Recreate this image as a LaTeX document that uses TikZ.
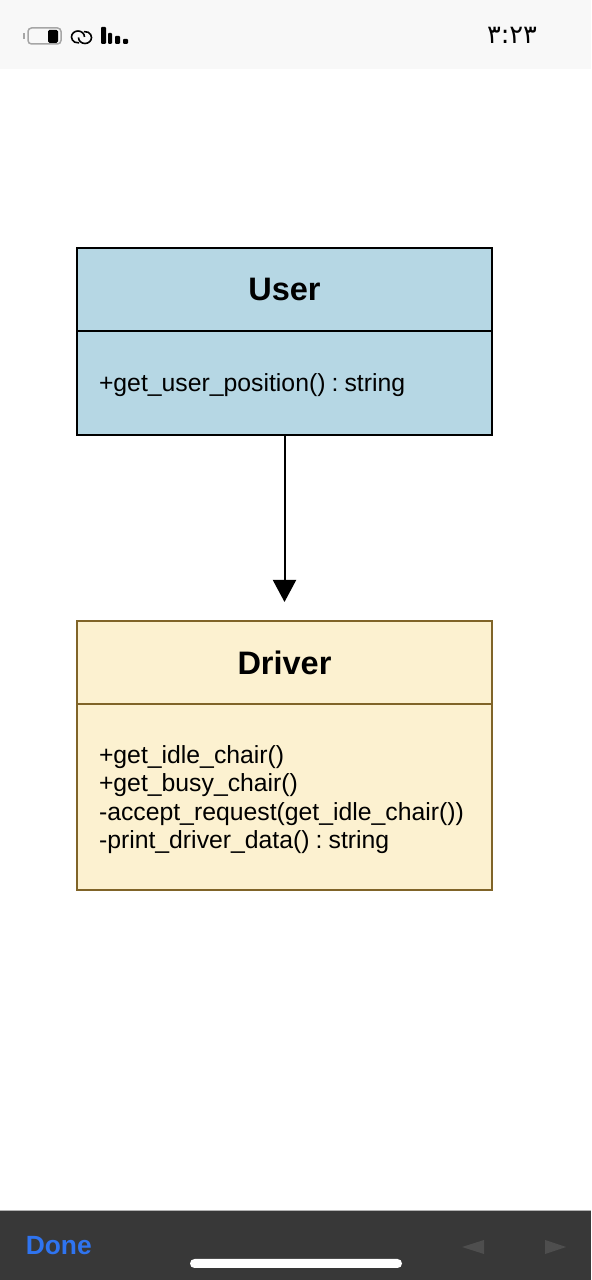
\documentclass[tikz,border=0pt]{standalone}
\usepackage{fontspec}
\setmainfont{Liberation Sans}
\newfontfamily\arabicfont[Script=Arabic]{DejaVu Sans}
\usepackage{xcolor}
\usetikzlibrary{arrows.meta,positioning,calc}
\definecolor{ublue}{RGB}{182,215,228}
\definecolor{dyellow}{RGB}{252,241,208}
\definecolor{dline}{RGB}{128,100,40}
\definecolor{donebar}{RGB}{56,56,56}
\definecolor{doneblue}{RGB}{47,116,240}
\definecolor{navgray}{RGB}{78,78,78}
\definecolor{statbar}{RGB}{248,248,248}

\begin{document}
\frenchspacing
\begin{tikzpicture}[
    user_head/.style={draw=black, line width=0.035cm, outer sep=0pt, fill=ublue, minimum width=8.3cm,
                      minimum height=1.66cm, font=\fontsize{18.5}{22}\selectfont\bfseries},
    user_body/.style={draw=black, line width=0.035cm, outer sep=0pt, fill=ublue, minimum width=8.3cm,
                      minimum height=2.08cm, inner sep=0pt, text width=7.42cm, align=left,
                      font=\fontsize{14.1}{16.2}\selectfont,
                      execute at begin node={\spaceskip=0.245em\relax\rule{0pt}{0.46cm}}},
    driver_head/.style={user_head, draw=dline, fill=dyellow},
    driver_body/.style={user_body, draw=dline, fill=dyellow, minimum height=3.72cm},
    arr/.style={-{Triangle[length=0.44cm, width=0.46cm]}, line width=0.04cm},
    nav_tri/.style={fill=navgray},
    sig_bar/.style={fill=black, rounded corners=0.02cm}
]
\useasboundingbox (0,0) rectangle (11.82,25.6);
\fill[white] (0,0) rectangle (11.82,25.6);

% Status bar (top)
\fill[statbar] (0,24.22) rectangle (11.82,25.6);
\draw[gray!70, line width=0.03cm, rounded corners=0.07cm] (0.56,24.72) rectangle (1.22,25.04);
\fill[black, rounded corners=0.03cm] (0.96,24.74) rectangle (1.16,25.0);
\fill[gray!70] (0.46,24.82) rectangle (0.49,24.94);
\draw[black, line width=0.032cm] (1.69,24.86) arc[start angle=0, end angle=280, x radius=0.13, y radius=0.12];
\draw[black, line width=0.032cm] (1.57,24.85) arc[start angle=180, end angle=460, x radius=0.13, y radius=0.12];
\fill[sig_bar] (2.02,24.72) rectangle (2.12,25.06);
\fill[sig_bar] (2.16,24.72) rectangle (2.24,24.94);
\fill[sig_bar] (2.30,24.72) rectangle (2.40,24.88);
\fill[sig_bar] (2.46,24.72) rectangle (2.56,24.82);
\node[font=\arabicfont\fontsize{14.6}{16}\selectfont] (clock) at (10.24,24.9) {٣:٢٣};

% User class
\node[user_head] (user_title) at (5.69,19.81) {User};
\node[user_body, below=0pt of user_title] (user_ops) {+get\_user\_position() : string};

% Driver class
\node[driver_head] (driver_title) at (5.69,12.35) {Driver};
\node[driver_body, below=0pt of driver_title] (driver_ops) {+get\_idle\_chair()\\
+get\_busy\_chair()\\
-accept\_request(get\_idle\_chair())\\
-print\_driver\_data() : string};

\draw[arr, shorten >=0.38cm] (user_ops) -- (driver_title);

% Bottom bar
\fill[donebar] (0,0) rectangle (11.82,1.38);
\draw[gray!60, line width=0.02cm] (0,1.39) -- (11.82,1.39);
\node[anchor=west, inner sep=0pt, text=doneblue, font=\fontsize{15}{18}\selectfont\bfseries] (done) at (0.51,0.68) {Done};
\fill[white, rounded corners=0.09cm] (3.8,0.24) rectangle (8.04,0.42);
\fill[nav_tri] (9.24,0.66) -- (9.68,0.8) -- (9.68,0.52) -- cycle;
\fill[nav_tri] (11.32,0.66) -- (10.9,0.8) -- (10.9,0.52) -- cycle;

\end{tikzpicture}
\end{document}
